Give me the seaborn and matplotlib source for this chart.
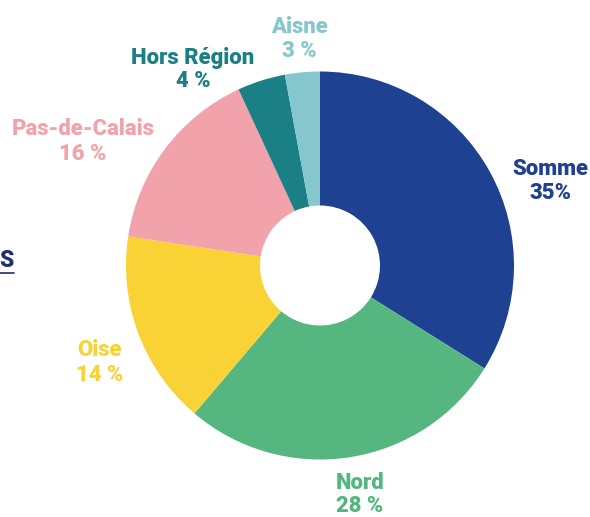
import matplotlib
matplotlib.use("Agg")
import matplotlib.pyplot as plt
from matplotlib.lines import Line2D
import seaborn as sns

# Data
regions = ["Somme", "Nord", "Oise", "Pas-de-Calais", "Hors Région", "Aisne"]
shares = [33.9, 27.3, 16.2, 15.7, 4.0, 2.9]          # wedge sizes
pct_labels = ["35%", "28 %", "14 %", "16 %", "4 %", "3 %"]  # printed labels
colors = ["#1e4192", "#55b67f", "#f9d336", "#f2a2aa", "#1b7f86", "#85c7cd"]

sns.set_theme(style="white")
plt.rcParams["font.family"] = ["Roboto", "DejaVu Sans"]

W, H = 590, 517
fig = plt.figure(figsize=(W / 100, H / 100), dpi=100)
ax = fig.add_axes([0, 0, 1, 1])

cx, cy, R = 320, H - 265.5, 194
ax.pie(shares, colors=colors, startangle=90, counterclock=False,
       center=(cx, cy), radius=R,
       wedgeprops=dict(width=R - 60, linewidth=0))

ax.set_xlim(0, W)
ax.set_ylim(0, H)
ax.set_aspect("equal")
ax.axis("off")

# label positions: x centre and baselines of both lines (pixels, top-left origin)
pos = {
    "Somme": (550, 175, 199),
    "Nord": (360, 489, 512),
    "Oise": (100, 356, 381),
    "Pas-de-Calais": (83, 135, 160),
    "Hors Région": (193, 64, 87),
    "Aisne": (299, 33, 57),
}
for name, pct, col in zip(regions, pct_labels, colors):
    x, y1, y2 = pos[name]
    ax.text(x, H - y1, name, ha="center", va="baseline", color=col,
            fontsize=15.8, fontweight="black")
    ax.text(x, H - y2, pct, ha="center", va="baseline", color=col,
            fontsize=15.8, fontweight="black")

# cut-off heading at left edge
ax.text(-1, H - 267, "S", ha="left", va="baseline", color="#1f2f6b",
        fontsize=16.5, fontweight="black")
ax.add_line(Line2D([0, 14], [H - 273, H - 273], color="#1f2f6b", linewidth=1.2))

fig.savefig("out.png", dpi=100)
